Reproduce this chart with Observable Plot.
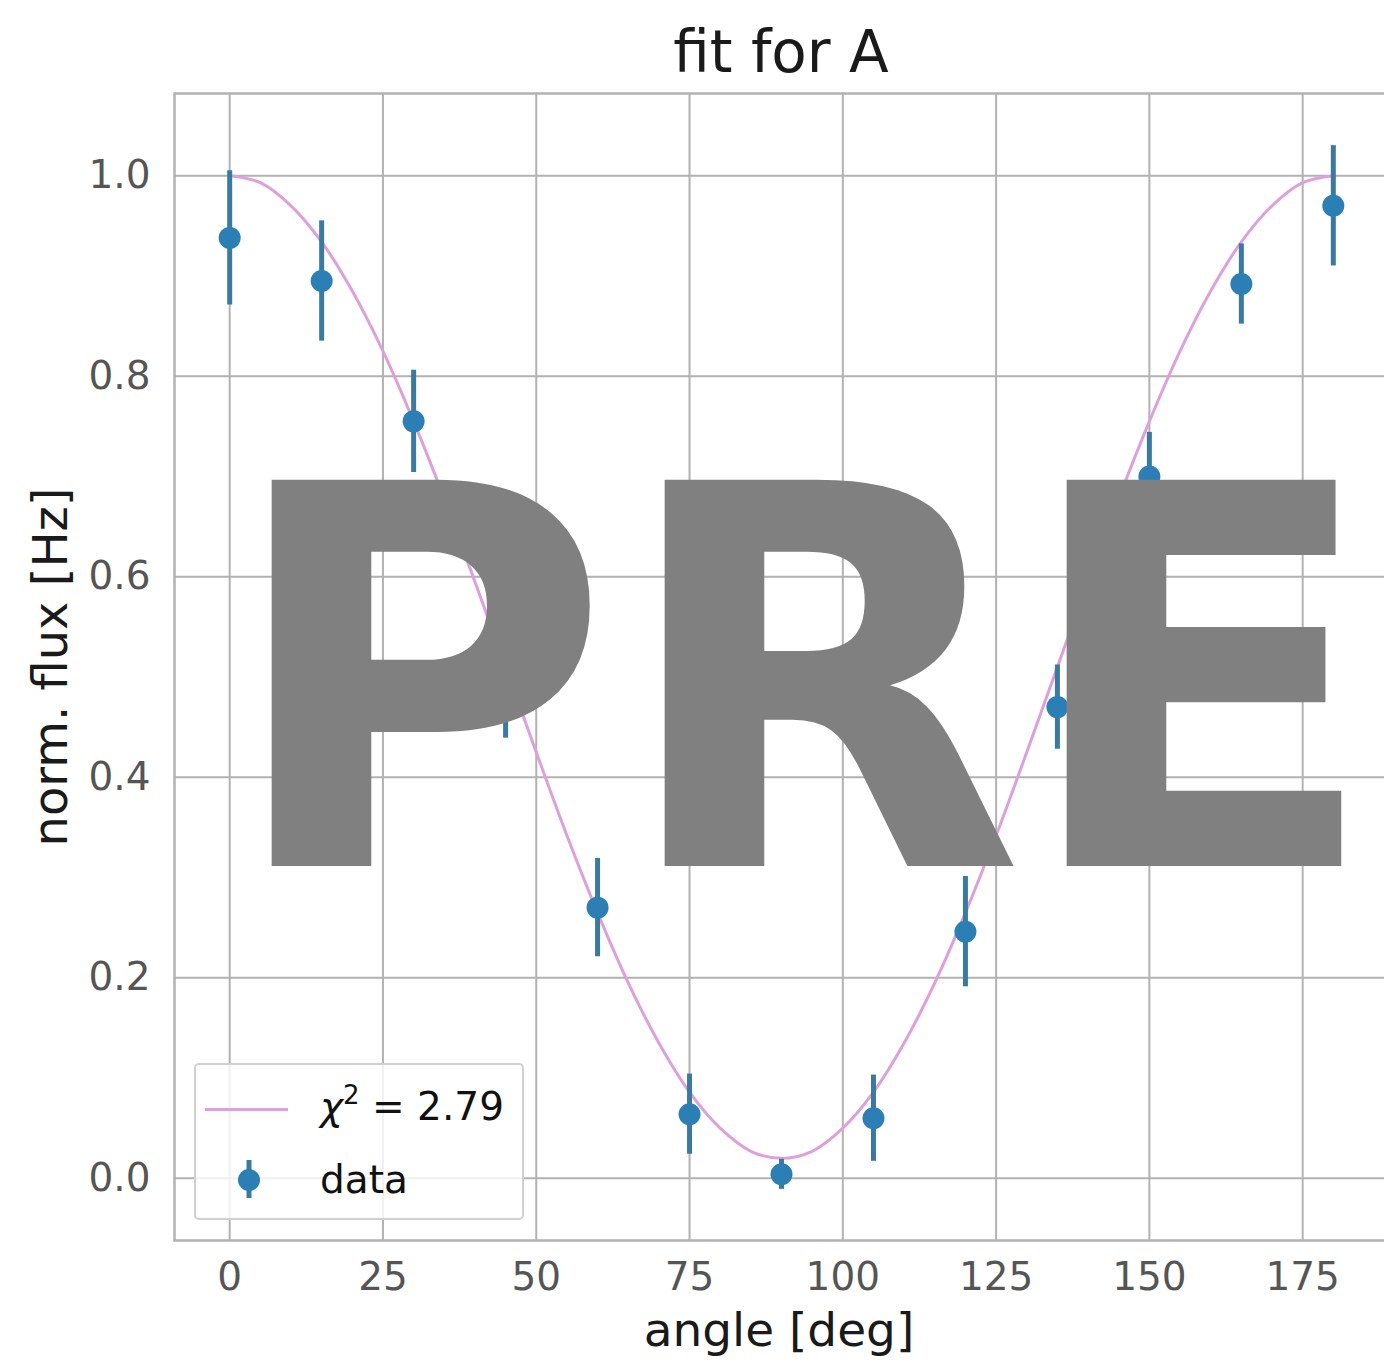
<!DOCTYPE html>
<html>
<head>
<meta charset="utf-8">
<script src="https://cdn.jsdelivr.net/npm/d3@7"></script>
<script src="https://cdn.jsdelivr.net/npm/@observablehq/plot@0.6"></script>
<style>
  html, body { margin: 0; padding: 0; background: #fff; overflow: hidden; }
  #page { position: relative; width: 1384px; height: 1363px; overflow: hidden; background: #fff; }
  #chart { position: absolute; left: 0; top: 0; width: 1390px; }
  #chart svg { max-width: none !important; }
  .txt { position: absolute; font-family: "DejaVu Sans", sans-serif; line-height: 1; white-space: nowrap; }
  #title { font-size: 58px; color: #1a1a1a; left: 781px; top: 23px; transform: translateX(-50%); }
  #xlabel { font-size: 47px; color: #1a1a1a; left: 779px; top: 1306px; transform: translateX(-50%); }
  #ylabel { font-size: 48px; color: #1a1a1a; left: 50px; top: 667px; transform: translate(-50%, -50%) rotate(-90deg); }
  #legend { position: absolute; left: 194px; top: 1063px; width: 330px; height: 157px; box-sizing: border-box;
            background: rgba(255,255,255,0.8); border: 2px solid #d0d0d0; border-radius: 5px; }
  #legend .lab { font-size: 39px; color: #111; }
  #legend .chi { font-style: italic; }
  #legend sup { font-size: 26px; vertical-align: 0; position: relative; top: -16px; }
  .mark { position: absolute; font-family: "DejaVu Sans", sans-serif; font-weight: bold; font-size: 530px;
          line-height: 1; color: #808080; top: 418px; white-space: nowrap; }
</style>
</head>
<body>
<div id="page">
  <div id="chart"></div>
  <div id="title" class="txt">fit for A</div>
  <div id="xlabel" class="txt">angle [deg]</div>
  <div id="ylabel" class="txt">norm. flux [Hz]</div>
  <div id="legend">
    <div style="position:absolute;left:9px;top:43px;width:83px;height:3px;background:plum;"></div>
    <div class="txt lab" style="left:124px;top:22px;"><span class="chi">χ</span><sup>2</sup> = 2.79</div>
    <svg style="position:absolute;left:38px;top:93px;" width="30" height="42">
      <line x1="15" y1="2" x2="15" y2="40" stroke="#3a7aa0" stroke-width="5"></line>
      <circle cx="15" cy="22" r="11" fill="#2b7fb5"></circle>
    </svg>
    <div class="txt lab" style="left:124px;top:95px;">data</div>
  </div>
  <span class="mark" style="left:223px;">P</span>
  <span class="mark" style="left:616px;">R</span>
  <span class="mark" style="left:1018px;">E</span>
</div>
<script>
// measured polarisation scan: angle of the analyser and normalised flux
const angles  = [0, 15, 30, 45, 60, 75, 90, 105, 120, 135, 150, 165, 180];
const flux    = [0.938, 0.895, 0.755, 0.485, 0.270, 0.064, 0.004, 0.060, 0.246, 0.470, 0.700, 0.892, 0.970];
const fluxErr = [0.067, 0.060, 0.051, 0.046, 0.049, 0.040, 0.015, 0.043, 0.055, 0.042, 0.044, 0.040, 0.060];

// fitted model curve, sampled every 5 degrees
const fitAngles = [0, 5, 10, 15, 20, 25, 30, 35, 40, 45, 50, 55, 60, 65, 70, 75, 80, 85, 90,
                   95, 100, 105, 110, 115, 120, 125, 130, 135, 140, 145, 150, 155, 160, 165, 170, 175, 180];
const fitFlux   = [1.000, 0.993, 0.970, 0.934, 0.885, 0.825, 0.755, 0.678, 0.595, 0.510, 0.425, 0.342, 0.265,
                   0.195, 0.135, 0.086, 0.050, 0.027, 0.020, 0.027, 0.050, 0.086, 0.135, 0.195, 0.265, 0.342,
                   0.425, 0.510, 0.595, 0.678, 0.755, 0.825, 0.885, 0.934, 0.970, 0.993, 1.000];

const xTicks = [0, 25, 50, 75, 100, 125, 150, 175];
const yTicks = [0.0, 0.2, 0.4, 0.6, 0.8, 1.0];

const points = angles.map((a, i) => ({angle: a, flux: flux[i], err: fluxErr[i]}));
const fit = fitAngles.map((a, i) => ({angle: a, flux: fitFlux[i]}));

const gridColor = "#b2b2b2";

const chart = Plot.plot({
  width: 1390,
  height: 1363,
  marginLeft: 174,
  marginRight: 2,
  marginTop: 93,
  marginBottom: 123,
  style: {fontFamily: "DejaVu Sans, sans-serif", fontSize: "39px", color: "#555", background: "transparent", overflow: "visible", maxWidth: "none"},
  x: {domain: [-9, 189], ticks: xTicks, tickSize: 0, tickPadding: 22, label: null},
  y: {domain: [-0.062, 1.082], ticks: yTicks, tickFormat: d3.format(".1f"), tickSize: 0, tickPadding: 24, label: null},
  marks: [
    Plot.ruleX(xTicks, {stroke: gridColor, strokeWidth: 2}),
    Plot.ruleY(yTicks, {stroke: gridColor, strokeWidth: 2}),
    Plot.frame({stroke: gridColor, strokeWidth: 2.5}),
    Plot.line(fit, {x: "angle", y: "flux", stroke: "plum", strokeWidth: 3, curve: "catmull-rom"}),
    Plot.ruleX(points, {x: "angle", y1: d => d.flux - d.err, y2: d => d.flux + d.err, stroke: "#3a7aa0", strokeWidth: 5}),
    Plot.dot(points, {x: "angle", y: "flux", r: 11, fill: "#2b7fb5", stroke: "none"})
  ]
});
document.getElementById("chart").appendChild(chart);
</script>
</body>
</html>
